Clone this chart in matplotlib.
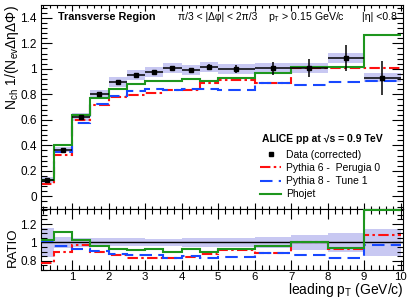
import numpy as np
import matplotlib
matplotlib.use("Agg")
import matplotlib.pyplot as plt
from matplotlib.lines import Line2D
from matplotlib.ticker import MultipleLocator, FuncFormatter

plt.rcParams['font.family'] = ['Liberation Sans', 'DejaVu Sans']
plt.rcParams['mathtext.fontset'] = 'custom'
plt.rcParams['mathtext.rm'] = 'Liberation Sans'
plt.rcParams['mathtext.it'] = 'Liberation Sans:italic'

# bin edges in leading pT (GeV/c)
edges = [0.15, 0.5, 1, 1.5, 2, 2.5, 3, 3.5, 4, 4.5, 5, 6, 7, 8, 9, 10]

data = [0.128, 0.364, 0.620, 0.800, 0.899, 0.953, 0.976, 1.008, 0.990, 1.015,
        0.997, 1.003, 1.008, 1.086, 0.930]
stat = [0.004, 0.006, 0.007, 0.008, 0.009, 0.010, 0.012, 0.015, 0.018, 0.022,
        0.030, 0.048, 0.070, 0.104, 0.133]
sys = [0.020, 0.020, 0.030, 0.035, 0.038, 0.040, 0.040, 0.040, 0.040, 0.042,
       0.040, 0.040, 0.040, 0.042, 0.036]

pythia6 = [0.100, 0.328, 0.600, 0.720, 0.777, 0.795, 0.810, 0.832, 0.835, 0.888,
           0.915, 0.890, 1.008, 1.003, 1.003]
pythia8 = [0.130, 0.350, 0.573, 0.722, 0.790, 0.826, 0.845, 0.835, 0.840, 0.840,
           0.838, 0.886, 0.873, 0.900, 0.905]
phojet = [0.132, 0.405, 0.637, 0.768, 0.839, 0.878, 0.906, 0.904, 0.924, 0.906,
          0.926, 0.966, 1.018, 1.018, 1.263]

edges = np.array(edges)
data = np.array(data)
stat = np.array(stat)
sys = np.array(sys)
centers = 0.5 * (edges[1:] + edges[:-1])
halfw = 0.5 * (edges[1:] - edges[:-1])

band_col = '#c8c8f2'
green = '#1e961e'
red = '#ff1010'
blue = '#1848ff'
red_dash = (0, (5, 1.6, 1.2, 1.6))
blue_dash = (0, (6, 3))

fig = plt.figure(figsize=(4.14, 3.0), dpi=100)
ax = fig.add_axes([0.099, 0.303, 0.875, 0.68])
axr = fig.add_axes([0.099, 0.10, 0.875, 0.203])

# top panel
ax.bar(centers, 2 * sys, width=2 * halfw, bottom=data - sys, color=band_col, lw=0, zorder=1)
ax.stairs(pythia6, edges, color=red, lw=1.5, ls=red_dash, baseline=None, zorder=2)
ax.stairs(pythia8, edges, color=blue, lw=1.5, ls=blue_dash, baseline=None, zorder=2)
ax.stairs(phojet, edges, color=green, lw=1.5, baseline=None, zorder=3)
ax.errorbar(centers, data, xerr=halfw, yerr=stat, fmt='s', color='black', ms=3.2,
            elinewidth=1.1, capsize=0, zorder=4)

ax.set_xlim(0.15, 10.07)
ax.set_ylim(-0.1, 1.5)
ax.yaxis.set_major_locator(MultipleLocator(0.2))
ax.yaxis.set_minor_locator(MultipleLocator(0.04))
ax.xaxis.set_major_locator(MultipleLocator(1))
ax.xaxis.set_minor_locator(MultipleLocator(0.2))
ax.yaxis.set_major_formatter(FuncFormatter(lambda v, p: '%g' % round(v, 2)))
ax.tick_params(axis='x', which='both', direction='in', top=True, bottom=True, labelbottom=False)
ax.tick_params(axis='y', which='both', direction='in', left=True, right=True)
ax.tick_params(axis='x', which='major', length=4.5, width=0.8)
ax.tick_params(axis='x', which='minor', length=2.3, width=0.8)
ax.tick_params(axis='y', which='major', length=8, width=0.8, labelsize=8.5, pad=3)
ax.tick_params(axis='y', which='minor', length=4, width=0.8)

ax.text(0.047, 0.941, 'Transverse Region', transform=ax.transAxes, fontsize=7.8,
        fontweight='bold', va='center', ha='left')
ax.text(0.378, 0.941, 'π/3 < |Δφ| < 2π/3', transform=ax.transAxes, fontsize=7.4,
        va='center', ha='left')
ax.text(0.627, 0.941, r'p$_{\mathregular{T}}$ > 0.15 GeV/c', transform=ax.transAxes,
        fontsize=7.6, va='center', ha='left')
ax.text(0.887, 0.941, '|η| <0.8', transform=ax.transAxes, fontsize=7.6,
        va='center', ha='left')
ax.text(0.61, 0.343, 'ALICE pp at √s = 0.9 TeV', transform=ax.transAxes, fontsize=7.5,
        fontweight='bold', va='center', ha='left')

handles = [
    Line2D([], [], marker='s', ls='none', color='black', ms=3.2),
    Line2D([], [], color=red, lw=1.5, ls=red_dash),
    Line2D([], [], color=blue, lw=1.5, ls=blue_dash),
    Line2D([], [], color=green, lw=1.5),
]
labels = ['Data (corrected)', 'Pythia 6 -  Perugia 0', 'Pythia 8 -  Tune 1', 'Phojet']
ax.legend(handles, labels, loc='upper left', bbox_to_anchor=(0.605, 0.29), frameon=False,
          fontsize=7.5, handlelength=2.0, handletextpad=0.5, labelspacing=0.3,
          borderpad=0, borderaxespad=0)

fig.text(0.03, 0.983, r'N$_{\mathregular{ch}}$ 1/(N$_{\mathregular{ev}}$ΔηΔΦ)', rotation=90,
         ha='center', va='top', fontsize=10)

# ratio panel
rel_err = np.sqrt(stat ** 2 + sys ** 2) / data
axr.bar(centers, 2 * rel_err, width=2 * halfw, bottom=1 - rel_err, color=band_col, lw=0, zorder=1)
axr.axhline(1, color='black', lw=1.0, zorder=2)
axr.stairs(np.array(pythia6) / data, edges, color=red, lw=1.5, ls=red_dash, baseline=None, zorder=3)
axr.stairs(np.array(pythia8) / data, edges, color=blue, lw=1.5, ls=blue_dash, baseline=None, zorder=3)
axr.stairs(np.array(phojet) / data, edges, color=green, lw=1.5, baseline=None, zorder=4)

axr.set_xlim(0.15, 10.07)
axr.set_ylim(0.7, 1.363)
axr.yaxis.set_major_locator(MultipleLocator(0.2))
axr.yaxis.set_minor_locator(MultipleLocator(0.05))
axr.xaxis.set_major_locator(MultipleLocator(1))
axr.xaxis.set_minor_locator(MultipleLocator(0.2))
axr.yaxis.set_major_formatter(FuncFormatter(lambda v, p: '%g' % round(v, 2)))
axr.tick_params(axis='both', which='both', direction='in', top=True, right=True)
axr.tick_params(axis='x', which='major', length=7, width=0.8, labelsize=8.2, pad=1.5)
axr.tick_params(axis='x', which='minor', length=3.5, width=0.8)
axr.tick_params(axis='y', which='major', length=8, width=0.8, labelsize=8.5, pad=3)
axr.tick_params(axis='y', which='minor', length=4, width=0.8)

fig.text(0.03, 0.175, 'RATIO', rotation=90, ha='center', va='center', fontsize=9.5)
fig.text(0.976, 0.032, r'leading p$_{\mathregular{T}}$ (GeV/c)', ha='right', va='center', fontsize=10)

fig.savefig('out.png', dpi=100)
